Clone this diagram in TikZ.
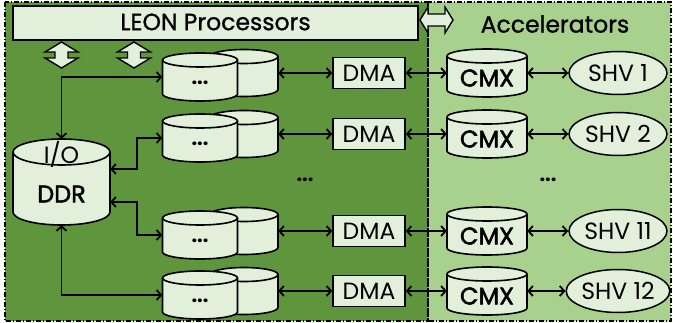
\documentclass[tikz,border=0pt]{standalone}
\usepackage{fontspec}
\setmainfont{Poppins}
\newfontfamily\medfont[FakeBold=1]{Poppins}
\newfontfamily\semifont[FakeBold=2.2]{Poppins}
\usetikzlibrary{arrows.meta,shapes.geometric}
\definecolor{dkg}{HTML}{5F963D}
\definecolor{ltg}{HTML}{A9D18E}
\definecolor{nfill}{HTML}{E2EFDA}
\tikzset{
  region/.style={draw=black, line width=1.1pt, dash pattern=on 5pt off 2pt on 1pt off 2pt},
  conn/.style={line width=1.8pt, {Straight Barb[length=4.5pt,width=10pt]}-{Straight Barb[length=4.5pt,width=10pt]}},
  dmabox/.style={draw=black, fill=nfill, line width=1.5pt, minimum width=72pt, minimum height=31pt, inner sep=0pt, font=\fontsize{23.5}{26}\selectfont},
  shvnode/.style={draw=black, fill=nfill, line width=1.5pt, ellipse, minimum width=98pt, minimum height=43pt, inner sep=0pt, font=\fontsize{23.5}{26}\selectfont},
  fat/.style={draw=black, fill=nfill, line width=1.4pt, line join=miter},
  txt/.style={font=\fontsize{23.5}{26}\selectfont, inner sep=0pt},
  mtxt/.style={font=\fontsize{23.5}{26}\selectfont\medfont, inner sep=0pt},
  btxt/.style={font=\fontsize{24}{26}\selectfont\semifont, inner sep=0pt},
  dots/.style={font=\fontsize{20}{24}\selectfont\bfseries, inner sep=0pt},
}
\newcommand\mycyl[6]{%
  \path[fill=nfill,draw=black,line width=1.6pt] (#2-#4/2,#3+#5/2-#6) -- (#2-#4/2,#3-#5/2+#6) arc[start angle=180,end angle=360,x radius=#4/2,y radius=#6] -- (#2+#4/2,#3+#5/2-#6) arc[start angle=0,end angle=180,x radius=#4/2,y radius=#6] -- cycle;
  \draw[line width=1.6pt] (#2-#4/2,#3+#5/2-#6) arc[start angle=180,end angle=360,x radius=#4/2,y radius=#6];
  \node[inner sep=0pt,minimum width=#4pt,minimum height=#5pt] (#1) at (#2,#3) {};
}
\newcommand\vfat[2]{%
  \path[fat] (#1,#2+13) -- (#1+16.5,#2+3) -- (#1+6.5,#2+3) -- (#1+6.5,#2-3) -- (#1+16.5,#2-3) -- (#1,#2-13) -- (#1-16.5,#2-3) -- (#1-6.5,#2-3) -- (#1-6.5,#2+3) -- (#1-16.5,#2+3) -- cycle;
}
\newcommand\rowpair[2]{% index, row y (pixels)
  \mycyl{b#1}{244}{-#2}{68}{47}{7}
  \mycyl{f#1}{200}{-#2-4}{75}{48}{7}
  \node[dots] at (200,-#2-10) {...};
  \node[dmabox] (d#1) at (369,-#2) {DMA};
  \mycyl{c#1}{487}{-#2}{80}{48}{7}
  \node[btxt] at (487,-#2-5) {CMX};
  \draw[conn] (b#1.east) -- (d#1.west);
  \draw[conn] (d#1.east) -- (c#1.west);
}
\begin{document}
\begin{tikzpicture}[x=1pt,y=1pt]
\useasboundingbox (0,0) rectangle (673,-323);
\fill[dkg] (5,-2) rectangle (428,-321);
\fill[ltg] (428,-2) rectangle (671,-321);
\draw[region] (5,-2) rectangle (428,-321);
\draw[region] (428,-2) rectangle (671,-321);
\node[draw=black, fill=nfill, line width=2.4pt, minimum width=405pt, minimum height=34pt, inner sep=0pt] (leon) at (215.5,-23) {};
\node[mtxt] at (215.5,-22) {LEON Processors};
\node[mtxt] (acc) at (555,-24) {Accelerators};
\path[fat] (420,-20) -- (428,-7) -- (428,-14) -- (445,-14) -- (445,-7) -- (453,-20) -- (445,-33) -- (445,-26) -- (428,-26) -- (428,-33) -- cycle;
\vfat{61.5}{-55}
\vfat{134}{-55}
\rowpair{1}{73}
\rowpair{2}{134}
\rowpair{3}{231}
\rowpair{4}{291}
\node[shvnode] (s1) at (618,-73) {SHV 1};
\node[shvnode] (s2) at (618,-134) {SHV 2};
\node[shvnode] (s3) at (618,-231) {SHV 11};
\node[shvnode] (s4) at (618,-291) {SHV 12};
\draw[conn] (c1.east) -- (s1.west);
\draw[conn] (c2.east) -- (s2.west);
\draw[conn] (c3.east) -- (s3.west);
\draw[conn] (c4.east) -- (s4.west);
\mycyl{ddr}{61.5}{-182}{97}{86}{13}
\node[txt] at (61.5,-154) {I/O};
\node[btxt] at (61.5,-194) {DDR};
\node[dots] at (305,-180) {...};
\node[dots] at (548,-180) {...};
\draw[conn] (ddr.north) |- (f1.west);
\draw[conn] ([yshift=13pt]ddr.east) -- ++(27,0) |- (f2.west);
\draw[conn] ([yshift=-20pt]ddr.east) -- ++(27,0) |- (f3.west);
\draw[conn] (ddr.south) |- (f4.west);
\end{tikzpicture}
\end{document}
